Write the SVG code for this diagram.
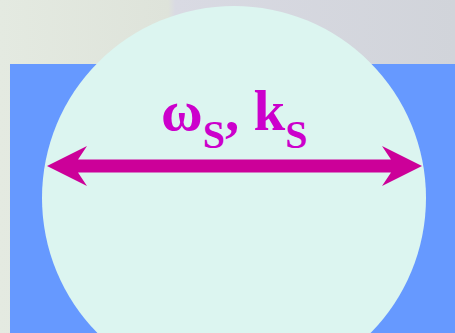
<svg xmlns="http://www.w3.org/2000/svg" width="455" height="333" viewBox="0 0 455 333">
  <defs>
    <linearGradient id="bg" x1="0" y1="0" x2="1" y2="0">
      <stop offset="0" stop-color="#E4EAE1"/>
      <stop offset="0.37" stop-color="#DEE3DA"/>
      <stop offset="0.385" stop-color="#D9DAE3"/>
      <stop offset="1" stop-color="#D1D4DA"/>
    </linearGradient>
    <style>
      .lbl { font-family: "Liberation Serif", "Times New Roman", serif; font-weight: bold; fill: #CC00CC; }
    </style>
  </defs>
  <rect id="background" x="0" y="0" width="455" height="333" fill="url(#bg)"/>
  <rect id="panel" x="10" y="64" width="445" height="269" fill="#6699FF"/>
  <g id="circle-node">
    <circle cx="234" cy="198" r="192" fill="#DCF5F0"/>
  </g>
  <g id="connectors">
    <polygon fill="#CC0099" points="47,166 87,146 78,159.5 391,159.5 382,146 422,166 382,186 391,172.5 78,172.5 87,186"/>
  </g>
  <g id="label">
    <text class="lbl" x="161" y="130" font-size="57">ω<tspan font-size="40" dy="18">S</tspan><tspan dy="-18">, k</tspan><tspan font-size="40" dy="18">S</tspan></text>
  </g>
</svg>
